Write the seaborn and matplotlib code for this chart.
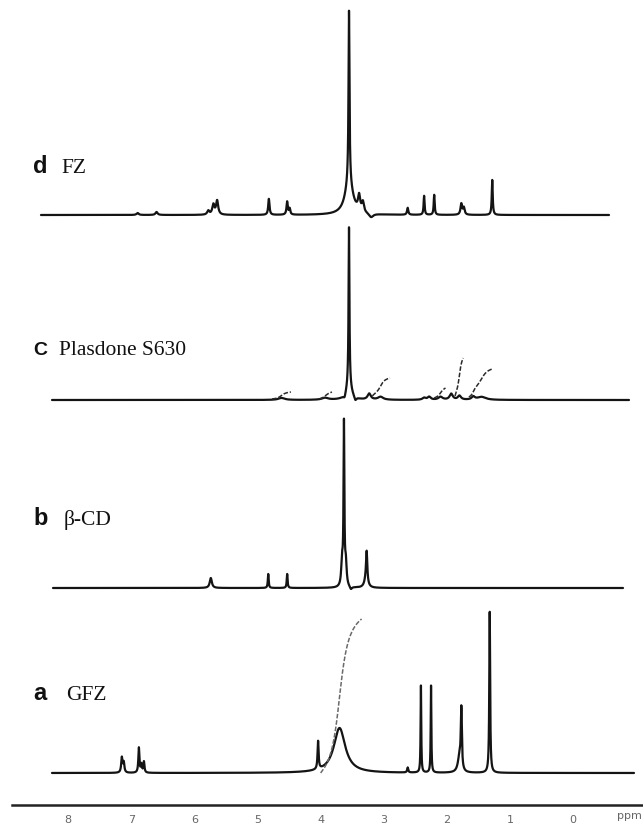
import numpy as np
import pandas as pd
import matplotlib
matplotlib.use("Agg")
import matplotlib.pyplot as plt
import seaborn as sns
from matplotlib.ticker import FixedLocator, MultipleLocator

sns.set_theme(style="white")
plt.rcParams["font.family"] = ["DejaVu Sans"]

# ---------------- peak tables: position (ppm), height, half-width (ppm) ----------------
fz_ppm = [3.55, 3.55, 3.39, 3.33, 3.20, 4.82, 4.53, 4.49, 5.64, 5.70, 5.78, 6.60, 6.90,
          2.62, 2.36, 2.20, 1.77, 1.73, 1.28]
fz_height = [172, 32, 15, 10, -4, 16, 13, 6, 14, 10, 4, 3, 2,
             7, 19, 20, 11, 7, 35]
fz_width = [0.009, 0.075, 0.02, 0.02, 0.04, 0.012, 0.012, 0.012, 0.02, 0.02, 0.02, 0.02,
            0.02, 0.012, 0.009, 0.009, 0.015, 0.015, 0.009]

pl_ppm = [3.55, 3.55, 3.62, 3.45, 3.23, 3.05, 4.62, 3.93, 2.36, 2.28, 2.10, 1.93, 1.80,
          1.58, 1.45]
pl_height = [158, 15, -4, -4, 6, 3, 2, 2, 2, 3, 3, 6, 4, 3, 3]
pl_width = [0.008, 0.05, 0.02, 0.02, 0.03, 0.05, 0.06, 0.06, 0.03, 0.03, 0.04, 0.03,
            0.03, 0.03, 0.08]

cd_ppm = [3.63, 3.66, 3.60, 3.52, 3.27, 3.28, 4.83, 4.53, 5.74]
cd_height = [160, 25, 22, -3, 30, 8, 14, 14, 10]
cd_width = [0.008, 0.015, 0.015, 0.02, 0.012, 0.03, 0.008, 0.008, 0.02]

gfz_ppm = [7.15, 7.12, 6.88, 6.84, 6.80, 4.04, 3.70, 2.62, 2.41, 2.25, 1.77, 1.80, 1.32]
gfz_height = [15, 10, 25, 8, 11, 28, 45, 5, 87, 87, 60, 15, 161]
gfz_width = [0.012, 0.012, 0.01, 0.01, 0.01, 0.01, 0.11, 0.01, 0.006, 0.006, 0.01,
             0.03, 0.008]

# integral traces: (start ppm, end ppm, offset above baseline, total rise)
pl_integrals = [(4.77, 4.47, 1, 7), (4.02, 3.82, 1, 7), (3.18, 2.90, 4, 18),
                (2.20, 2.02, 2, 10), (1.87, 1.74, 4, 38), (1.65, 1.28, 3, 28)]
gfz_integrals = [(4.00, 3.35, 0, 154)]

samples = ["d", "c", "b", "a"]
names = ["FZ", "Plasdone S630", "\u03b2-CD", "GFZ"]
tick_values = [0, 1, 2, 3, 4, 5, 6, 7, 8]

# ---------------- layout (figure pixels) ----------------
W, H = 643, 824
PX0, PX_PER_PPM = 573.0, 63.1          # x pixel of 0 ppm, pixels per ppm


def px_to_ppm(px):
    return (PX0 - px) / PX_PER_PPM


baseline_px = {"d": 215, "c": 400, "b": 588, "a": 773}
extent_px = {"d": (41, 609), "c": (52, 629), "b": (53, 623), "a": (52, 634)}
label_base_px = {"d": 173, "c": 355, "b": 525, "a": 700}
name_x_px = {"d": 61, "c": 59, "b": 64, "a": 66}
letter_size = {"d": 17, "c": 14, "b": 17, "a": 17}
peaks = {"d": (fz_ppm, fz_height, fz_width),
         "c": (pl_ppm, pl_height, pl_width),
         "b": (cd_ppm, cd_height, cd_width),
         "a": (gfz_ppm, gfz_height, gfz_width)}
integrals = {"c": pl_integrals, "a": gfz_integrals}
integral_color = {"c": "#2a2a2a", "a": "#6a6a6a"}


def build_spectrum(key):
    left, right = extent_px[key]
    hi, lo = px_to_ppm(left), px_to_ppm(right)
    cen, hgt, wid = peaks[key]
    grid = np.linspace(lo, hi, 9000)
    grid = np.unique(np.concatenate([grid, [c for c in cen if lo < c < hi]]))[::-1]
    sig = np.zeros_like(grid)
    for c, h, w in zip(cen, hgt, wid):
        sig += h / (1.0 + ((grid - c) / w) ** 2)
    return grid, sig


rows, irows = [], []
for key in samples:
    grid, sig = build_spectrum(key)
    base = baseline_px[key]
    rows.append(pd.DataFrame({"ppm": grid, "y": base - sig, "sample": key}))
    for i, (start, end, off, rise) in enumerate(integrals.get(key, [])):
        m = (grid <= start) & (grid >= end)
        g, s = grid[m], sig[m]
        cum = np.concatenate([[0], np.cumsum(0.5 * (s[1:] + s[:-1]) * np.abs(np.diff(g)))])
        cum = cum / cum[-1] * rise + off
        irows.append(pd.DataFrame({"ppm": g, "y": base - cum, "seg": f"{key}{i}",
                                   "sample": key}))

spec = pd.concat(rows, ignore_index=True)
integ = pd.concat(irows, ignore_index=True)

# ---------------- drawing ----------------
fig = plt.figure(figsize=(W / 100, H / 100), dpi=100)
fig.patch.set_facecolor("white")
ax = fig.add_axes([0, 0, 1, 1])

sns.lineplot(data=spec, x="ppm", y="y", hue="sample", units="sample", estimator=None,
             sort=False, palette=["#141414"] * 4, linewidth=1.6, legend=False, ax=ax)
n_before = len(ax.lines)
sns.lineplot(data=integ, x="ppm", y="y", hue="sample", units="seg", estimator=None,
             sort=False, palette=integral_color, linewidth=1.1, legend=False, ax=ax)
for line in ax.lines[n_before:]:
    line.set_dashes((3, 1.2))
ax.set_xlim(px_to_ppm(0), px_to_ppm(W))
ax.set_ylim(H, 0)
ax.axis("off")

for key, name in zip(samples, names):
    yb = 1 - label_base_px[key] / H
    letter = key.upper() if key == "c" else key
    fig.text(33 / W, yb, letter, fontsize=letter_size[key], fontweight="bold",
             family=["Liberation Sans", "DejaVu Sans"], va="baseline", color="#111")
    fig.text(name_x_px[key] / W, yb, name, fontsize=15.5,
             family=["Liberation Serif", "DejaVu Serif"], va="baseline", color="#111")

# ppm scale along the bottom
axis_y = 805
sc = fig.add_axes([12 / W, 1 - axis_y / H, 1 - 12 / W, 1e-4])
sc.set_xlim(px_to_ppm(12), px_to_ppm(W))
sc.patch.set_visible(False)
for s in ["left", "right", "top"]:
    sc.spines[s].set_visible(False)
sc.spines["bottom"].set_linewidth(1.8)
sc.spines["bottom"].set_color("#222")
sc.set_yticks([])
sc.xaxis.set_major_locator(FixedLocator(tick_values))
sc.xaxis.set_minor_locator(MultipleLocator(0.1))
sc.set_xticklabels([str(v) for v in tick_values])
sc.tick_params(axis="x", which="major", direction="out", length=5, width=0.8,
               color="#777", labelsize=8, labelcolor="#666", pad=2)
sc.tick_params(axis="x", which="minor", direction="out", length=2, width=0.6, color="#999")
sc.set_xlabel("")
fig.text(617 / W, 1 - 816 / H, "ppm", fontsize=8, color="#666", va="center",
         family=["DejaVu Sans"])

fig.savefig("out.png", dpi=100, facecolor="white")
